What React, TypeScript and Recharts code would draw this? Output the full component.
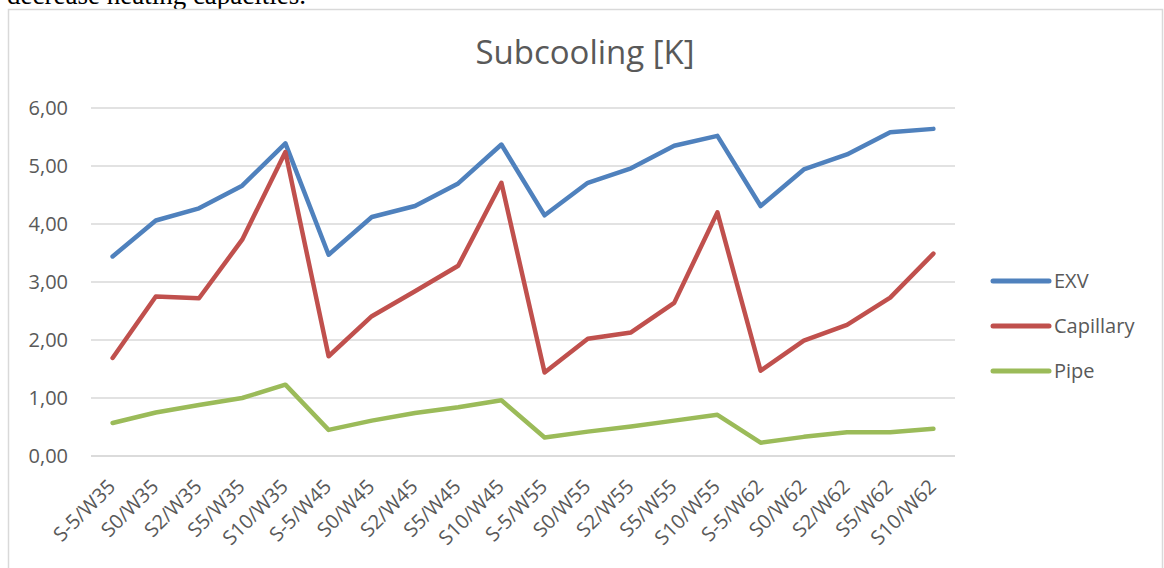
import React from "react"
import { CartesianGrid, Legend, Line, LineChart, XAxis, YAxis } from "recharts"

const categories = [
  "S-5/W35", "S0/W35", "S2/W35", "S5/W35", "S10/W35",
  "S-5/W45", "S0/W45", "S2/W45", "S5/W45", "S10/W45",
  "S-5/W55", "S0/W55", "S2/W55", "S5/W55", "S10/W55",
  "S-5/W62", "S0/W62", "S2/W62", "S5/W62", "S10/W62",
]

const exv = [3.44, 4.06, 4.27, 4.66, 5.39, 3.47, 4.12, 4.31, 4.7, 5.37, 4.15, 4.71, 4.96, 5.35, 5.52, 4.31, 4.94, 5.2, 5.58, 5.64]
const capillary = [1.69, 2.75, 2.72, 3.73, 5.24, 1.72, 2.41, 2.84, 3.28, 4.71, 1.44, 2.02, 2.13, 2.64, 4.2, 1.47, 1.99, 2.26, 2.73, 3.49]
const pipe = [0.57, 0.75, 0.88, 1.0, 1.23, 0.45, 0.61, 0.74, 0.84, 0.96, 0.32, 0.42, 0.51, 0.61, 0.71, 0.23, 0.33, 0.41, 0.41, 0.47]

const yTicks = [0, 1, 2, 3, 4, 5, 6]

const series = [
  { key: "EXV", color: "#4F81BD" },
  { key: "Capillary", color: "#C0504D" },
  { key: "Pipe", color: "#9BBB59" },
]

const data = categories.map((name, i) => ({
  name,
  EXV: exv[i],
  Capillary: capillary[i],
  Pipe: pipe[i],
}))

const FONT = "'Open Sans', 'Noto Sans', sans-serif"
const TEXT = "#595959"

function XTick(props: any) {
  const { x, y, payload } = props
  return (
    <g transform={`translate(${x + 4},${y + 32})`}>
      <text transform="rotate(-45)" textAnchor="end" fontSize={20} fill={TEXT} fontFamily={FONT}>
        {payload.value}
      </text>
    </g>
  )
}

function LegendBox() {
  return (
    <div style={{ fontFamily: FONT, fontSize: 20, color: TEXT }}>
      {series.map((s) => (
        <div key={s.key} style={{ height: 45, display: "flex", alignItems: "center" }}>
          <svg width={63} height={10} style={{ display: "block" }}>
            <line x1={4} y1={5} x2={60} y2={5} stroke={s.color} strokeWidth={5} strokeLinecap="round" />
          </svg>
          <span style={{ marginLeft: 2 }}>{s.key}</span>
        </div>
      ))}
    </div>
  )
}

export default function App() {
  return (
    <div style={{ position: "absolute", left: 0, top: 0, width: 1164, height: 568, overflow: "hidden", background: "#fff" }}>
      <svg width={1164} height={568} style={{ position: "absolute", left: 0, top: 0 }}>
        <text x={7} y={4} fontFamily="'Liberation Serif', serif" fontSize={27} fill="#000">
          decrease heating capacities.
        </text>
        <rect x={8.5} y={9.5} width={1154} height={600} fill="none" stroke="#D9D9D9" strokeWidth={1.5} />
      </svg>
      <div style={{ position: "absolute", left: 0, top: 0 }}>
        <LineChart width={1164} height={568} data={data} margin={{ top: 108, right: 39, bottom: 12, left: 31 }}>
          <CartesianGrid vertical={false} stroke="#D9D9D9" strokeWidth={1.5} />
          <XAxis
            dataKey="name"
            height={100}
            padding={{ left: 21.6, right: 21.6 }}
            axisLine={{ stroke: "#D9D9D9", strokeWidth: 1.5 }}
            tickLine={false}
            tickSize={0}
            tickMargin={0}
            interval={0}
            tick={<XTick />}
          />
          <YAxis
            width={60}
            domain={[0, 6]}
            ticks={yTicks}
            axisLine={false}
            tickLine={false}
            tickMargin={17}
            tick={{ fontSize: 20, fill: TEXT, fontFamily: FONT }}
            tickFormatter={(v: number) => v.toFixed(2).replace(".", ",")}
          />
          <Legend
            layout="vertical"
            align="right"
            verticalAlign="middle"
            content={<LegendBox />}
            wrapperStyle={{ left: 989, top: 258, width: 170 }}
          />
          {series.map((s) => (
            <Line
              key={s.key}
              type="linear"
              dataKey={s.key}
              stroke={s.color}
              strokeWidth={4.5}
              strokeLinecap="round"
              strokeLinejoin="round"
              dot={false}
              activeDot={false}
              isAnimationActive={false}
            />
          ))}
        </LineChart>
      </div>
      <div
        style={{
          position: "absolute",
          left: 0,
          width: 1170,
          top: 29,
          textAlign: "center",
          fontFamily: FONT,
          fontSize: 33,
          color: TEXT,
          pointerEvents: "none",
        }}
      >
        Subcooling [K]
      </div>
    </div>
  )
}
